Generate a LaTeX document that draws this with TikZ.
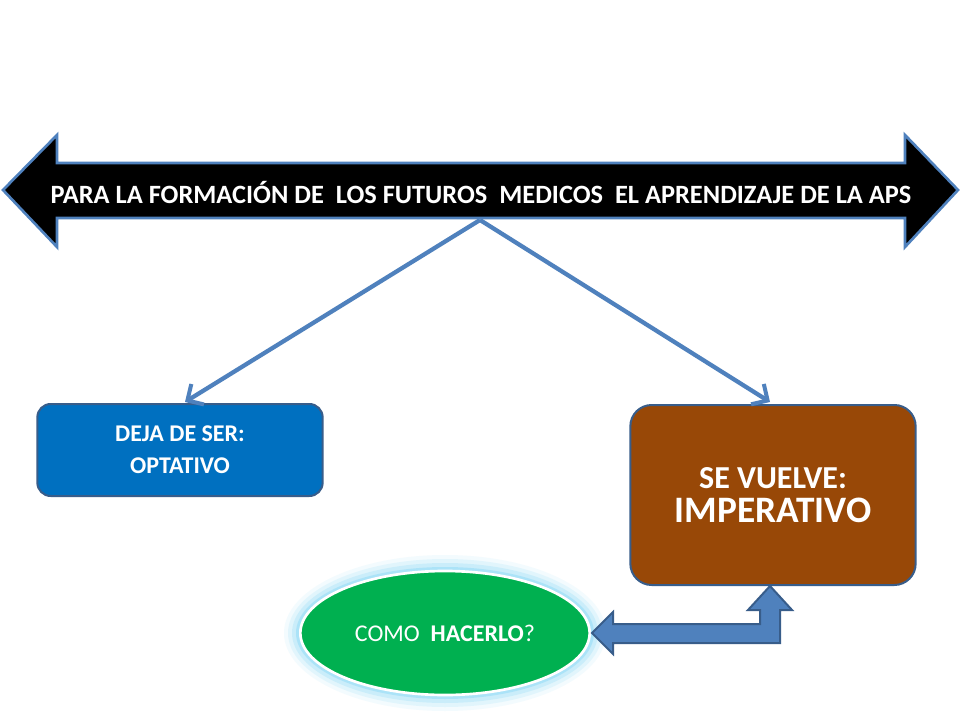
\documentclass[tikz,border=0pt]{standalone}
\usepackage{fontspec}
\setmainfont{Carlito}
\usetikzlibrary{shapes.geometric,arrows.meta}
\definecolor{bl}{HTML}{4F81BD}
\definecolor{bld}{HTML}{385D8A}
\definecolor{brn}{HTML}{984807}
\definecolor{box}{HTML}{0070C0}
\definecolor{grn}{HTML}{00B050}
\tikzset{conn/.style={bl,line width=3.2pt,-{Straight Barb[length=9pt,width=18pt,line width=3pt]}},
 rbox/.style={draw=bld,line width=1.5pt,rounded corners=10pt,text=white,font=\bfseries,align=center}}
\begin{document}
\begin{tikzpicture}[x=0.75pt,y=-0.75pt]
\useasboundingbox (0,0) rectangle (960,720);
\fill[white] (0,0) rectangle (960,720);
% double arrow
\draw[fill=black,draw=bl,line width=2pt] (3,190) -- (57,135) -- (57,163) -- (905,163) -- (905,135) -- (958,190) -- (905,247) -- (905,218) -- (57,218) -- (57,247) -- cycle;
\node[text=white,font=\bfseries\fontsize{19.8}{22}\selectfont] (top) at (481,193) {PARA LA FORMACIÓN DE\ \ LOS FUTUROS\ \ MEDICOS\ \ EL APRENDIZAJE DE LA APS};
\coordinate (src) at (480,220);
\node[rbox,fill=box,minimum width=214pt,minimum height=69pt,font=\bfseries\fontsize{18}{24}\selectfont] (b1) at (180,450) {DEJA DE SER:\\OPTATIVO};
\node[rbox,fill=brn,minimum width=214pt,minimum height=135pt,rounded corners=16pt] (b2) at (773,495) {{\fontsize{24}{30}\selectfont SE VUELVE:}\\[6pt]{\fontsize{28}{34}\selectfont IMPERATIVO}};
\draw[conn] (src) -- (185,402);
\draw[conn] (src) -- (770,402);
% glow ellipse
\foreach \i/\o in {16/0.08,12/0.12,8/0.18,4/0.3}{
  \fill[cyan!60!white,opacity=\o] (445,633) ellipse ({(145+\i)*0.75pt} and {(62+\i)*0.75pt});}
\node[ellipse,draw=white,line width=2pt,fill=grn,minimum width=217pt,minimum height=93pt,text=white,font=\fontsize{18}{20}\selectfont] (e) at (445,633) {COMO\ \ \textbf{HACERLO}?};
% elbow block arrow
\draw[fill=bl,draw=bld,line width=1.5pt] (592,633) -- (613,612) -- (613,624) -- (760,624) -- (760,610) -- (748,610) -- (770,586) -- (792,610) -- (780,610) -- (780,643) -- (613,643) -- (613,654) -- cycle;
\end{tikzpicture}
\end{document}
